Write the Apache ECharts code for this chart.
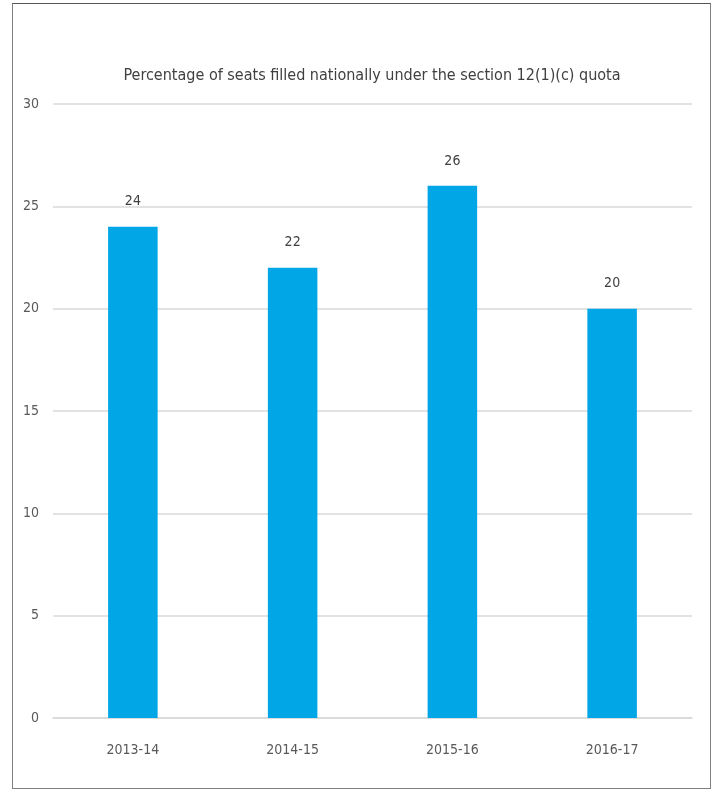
<!DOCTYPE html>
<html><head><meta charset="utf-8">
<script src="https://cdn.jsdelivr.net/npm/echarts@6/dist/echarts.min.js"></script>
<style>html,body{margin:0;padding:0;background:#fff}
#frame{position:absolute;left:12px;top:3px;width:699px;height:786px;border:1.5px solid #7f7f7f;border-top-color:#555;box-sizing:border-box}
#c{position:absolute;left:0;top:0;width:721px;height:793px}</style>
</head><body><div id="frame"></div><div id="c"></div>
<script>
const categories = ['2013-14','2014-15','2015-16','2016-17'];
const values = [24, 22, 26, 20];
const titleText = 'Percentage of seats filled nationally under the section 12(1)(c) quota';
const font = '"Liberation Sans Narrow", "DejaVu Sans Condensed", sans-serif';
const chart = echarts.init(document.getElementById('c'));
chart.setOption({
  animation: false,
  title: { text: titleText, left: 367, textAlign: 'center', top: 63,
    textStyle: { fontFamily: font, fontSize: 16, fontWeight: 'normal', color: '#404040' } },
  grid: { left: 53, right: 29, top: 104, bottom: 75 },
  xAxis: { type: 'category', data: categories,
    axisLine: { lineStyle: { color: '#d9d9d9', width: 1.5 } }, axisTick: { show: false },
    axisLabel: { fontFamily: font, fontSize: 14, color: '#595959', margin: 25 } },
  yAxis: { type: 'value', min: 0, max: 30, interval: 5,
    axisLine: { show: false }, axisTick: { show: false },
    splitLine: { lineStyle: { color: '#d9d9d9', width: 1.5 } },
    axisLabel: { fontFamily: font, fontSize: 14, color: '#595959', margin: 14 } },
  series: [{ type: 'bar', data: values, barWidth: '31%',
    itemStyle: { color: '#00a6e6' },
    label: { show: true, position: 'top', distance: 18, fontFamily: font, fontSize: 14, color: '#404040' } }]
});
</script></body></html>
